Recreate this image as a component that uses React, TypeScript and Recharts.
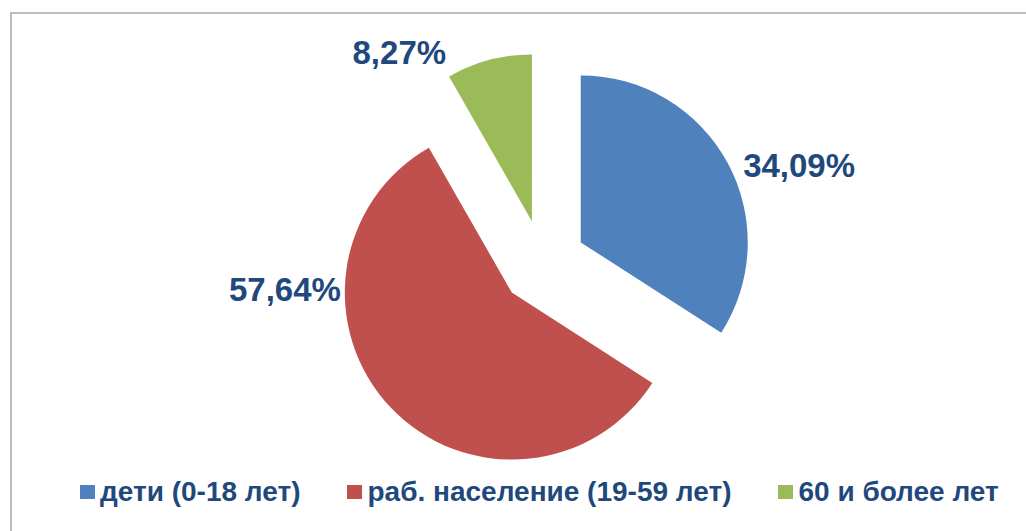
import { PieChart, Pie, Cell, Legend } from 'recharts';

const CATEGORIES = ['дети (0-18 лет)', 'раб. население (19-59 лет)', '60 и более лет'];
const SHARES = [34.09, 57.64, 8.27];
const LABELS = ['34,09%', '57,64%', '8,27%'];
const COLORS = ['#4F81BD', '#C0504D', '#9BBB59'];

// label anchors relative to the pie centre: angle in degrees (counter-clockwise from 3 o'clock), radius in px
const LABEL_POS = [
    { angle: 19.5, r: 277 },
    { angle: -173.0, r: 255 },
    { angle: 124.0, r: 248 },
];

const W = 1026;
const H = 531;
const CX = 538;
const CY = 258;
const RADIUS = 167;
const EXPLODE = 43;
const TEXT = '#1F497D';
const FONT = '"Liberation Sans", Arial, sans-serif';

const data = CATEGORIES.map((name, i) => ({ name, value: SHARES[i] }));
const total = SHARES.reduce((a, b) => a + b, 0);

// mid angle of each slice (clockwise from 12 o'clock), used to push slices outward
const midAngles = SHARES.map((v, i) => {
    const before = SHARES.slice(0, i).reduce((a, b) => a + b, 0);
    return 90 - ((before + v / 2) / total) * 360;
});

const renderLabel = ({ index }: { index: number }) => {
    const p = LABEL_POS[index];
    const rad = (p.angle * Math.PI) / 180;
    return (
        <text
            x={CX + p.r * Math.cos(rad)}
            y={CY - p.r * Math.sin(rad)}
            textAnchor="middle"
            dominantBaseline="central"
            fill={TEXT}
            fontSize={33}
            fontWeight="bold"
            fontFamily={FONT}
        >
            {LABELS[index]}
        </text>
    );
};

const renderLegend = () => (
    <div style={{ display: 'flex', alignItems: 'center', paddingLeft: 80, fontFamily: FONT }}>
        {CATEGORIES.map((c, i) => (
            <div key={c} style={{ display: 'flex', alignItems: 'center', marginRight: 47 }}>
                <span style={{ width: 15, height: 14, background: COLORS[i], display: 'inline-block', marginRight: 5 }} />
                <span style={{ fontSize: 28, fontWeight: 'bold', color: TEXT, whiteSpace: 'nowrap' }}>{c}</span>
            </div>
        ))}
    </div>
);

export default function App() {
    return (
        <div style={{ position: 'absolute', left: 0, top: 0, width: W, height: H, background: '#fff', overflow: 'hidden' }}>
            <div style={{ position: 'absolute', left: 10, top: 12, right: -10, bottom: -10, borderLeft: '2px solid #bdbdbd', borderTop: '2px solid #bdbdbd' }} />
            <PieChart width={W} height={H}>
                {SHARES.map((_, k) => {
                    const rad = (midAngles[k] * Math.PI) / 180;
                    return (
                        <Pie
                            key={k}
                            data={data}
                            dataKey="value"
                            cx={CX + EXPLODE * Math.cos(rad)}
                            cy={CY - EXPLODE * Math.sin(rad)}
                            outerRadius={RADIUS}
                            startAngle={90}
                            endAngle={-270}
                            stroke="none"
                            label={k === 0 ? renderLabel : false}
                            labelLine={false}
                            isAnimationActive={false}
                        >
                            {data.map((d, i) => (
                                <Cell key={d.name} fill={i === k ? COLORS[i] : 'transparent'} stroke="none" />
                            ))}
                        </Pie>
                    );
                })}
                <Legend content={renderLegend} wrapperStyle={{ position: 'absolute', top: 476, left: 0, width: W }} />
            </PieChart>
        </div>
    );
}
